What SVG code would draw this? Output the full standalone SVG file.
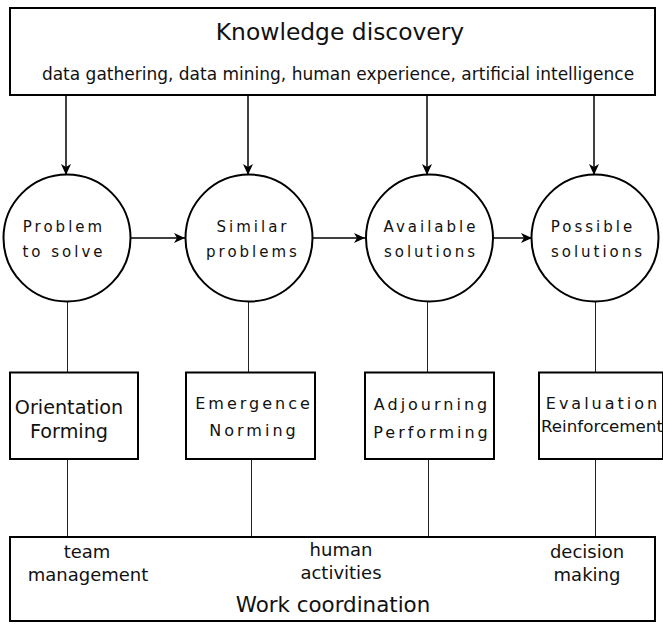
<svg xmlns="http://www.w3.org/2000/svg" width="663" height="624" viewBox="0 0 663 624">
  <style>
    text { font-family: "DejaVu Sans", "Liberation Sans", sans-serif; fill: #111; text-anchor: middle; }
    .frame { fill: #fff; stroke: #000; stroke-width: 2; }
    .node { fill: #fff; stroke: #000; stroke-width: 2; }
    .arrow { fill: none; stroke: #000; stroke-width: 1.5; marker-end: url(#head); }
    .link { fill: none; stroke: #222; stroke-width: 1; }
    .title { font-size: 23.4px; }
    .sub { font-size: 17px; }
    .circ { font-size: 15px; letter-spacing: 3px; }
    .step { font-size: 16px; letter-spacing: 3px; }
    .plain { font-size: 19.2px; }
    .small { font-size: 16.7px; }
    .work { font-size: 18px; }
    .foot { font-size: 21.4px; }
  </style>
  <defs>
    <marker id="head" markerWidth="12" markerHeight="10" refX="11" refY="5" orient="auto" markerUnits="userSpaceOnUse">
      <path d="M0,0 L11,5 L0,10 L3,5 Z" fill="#000"/>
    </marker>
  </defs>

  <g id="knowledge-discovery">
    <rect class="frame" x="10" y="8" width="645" height="87"/>
    <text class="title" x="340" y="40">Knowledge discovery</text>
    <text class="sub" x="338" y="80">data gathering, data mining, human experience, artificial intelligence</text>
  </g>

  <g id="connectors">
    <!-- knowledge feeds each stage -->
    <path class="arrow" d="M66,95 V175"/>
    <path class="arrow" d="M248,95 V175"/>
    <path class="arrow" d="M427,95 V175"/>
    <path class="arrow" d="M594,95 V175"/>
    <!-- stage sequence -->
    <path class="arrow" d="M131,238 H185"/>
    <path class="arrow" d="M313,238 H365"/>
    <path class="arrow" d="M494,238 H532"/>
    <!-- stage to team phase -->
    <path class="link" d="M67.5,302 V372"/>
    <path class="link" d="M248.5,302 V372"/>
    <path class="link" d="M427.5,302 V372"/>
    <path class="link" d="M595.5,302 V372"/>
    <!-- team phase to work coordination -->
    <path class="link" d="M67.5,459 V537"/>
    <path class="link" d="M251.5,459 V537"/>
    <path class="link" d="M428.5,459 V537"/>
    <path class="link" d="M595.5,459 V537"/>
  </g>

  <g id="problem-to-solve">
    <circle class="node" cx="67" cy="238" r="63.5"/>
    <text class="circ" x="64" y="232">Problem</text>
    <text class="circ" x="64" y="257">to solve</text>
  </g>
  <g id="similar-problems">
    <circle class="node" cx="249" cy="238" r="63.5"/>
    <text class="circ" x="253" y="232">Similar</text>
    <text class="circ" x="253" y="257">problems</text>
  </g>
  <g id="available-solutions">
    <circle class="node" cx="429.5" cy="238" r="63.5"/>
    <text class="circ" x="431" y="232">Available</text>
    <text class="circ" x="431" y="257">solutions</text>
  </g>
  <g id="possible-solutions">
    <circle class="node" cx="595" cy="238" r="63.5"/>
    <text class="circ" x="593" y="232">Possible</text>
    <text class="circ" x="598" y="257">solutions</text>
  </g>

  <g id="orientation-forming">
    <rect class="node" x="10" y="372.5" width="128" height="86.5"/>
    <text class="plain" x="69" y="414">Orientation</text>
    <text class="plain" x="69" y="438">Forming</text>
  </g>
  <g id="emergence-norming">
    <rect class="node" x="186" y="372.5" width="129" height="86.5"/>
    <text class="step" x="254" y="409">Emergence</text>
    <text class="step" x="254" y="436">Norming</text>
  </g>
  <g id="adjourning-performing">
    <rect class="node" x="365" y="372.5" width="129" height="86.5"/>
    <text class="step" x="432" y="410">Adjourning</text>
    <text class="step" x="432" y="438">Performing</text>
  </g>
  <g id="evaluation-reinforcement">
    <rect class="node" x="539" y="372.5" width="124" height="86.5"/>
    <text class="step" x="603" y="409">Evaluation</text>
    <text class="small" x="602" y="432">Reinforcement</text>
  </g>

  <g id="work-coordination">
    <rect class="frame" x="10" y="537" width="645" height="84"/>
    <text class="work" x="87" y="558">team</text>
    <text class="work" x="88" y="581">management</text>
    <text class="work" x="341" y="556">human</text>
    <text class="work" x="341" y="579">activities</text>
    <text class="work" x="587" y="558">decision</text>
    <text class="work" x="587" y="581">making</text>
    <text class="foot" x="333" y="612">Work coordination</text>
  </g>
</svg>
